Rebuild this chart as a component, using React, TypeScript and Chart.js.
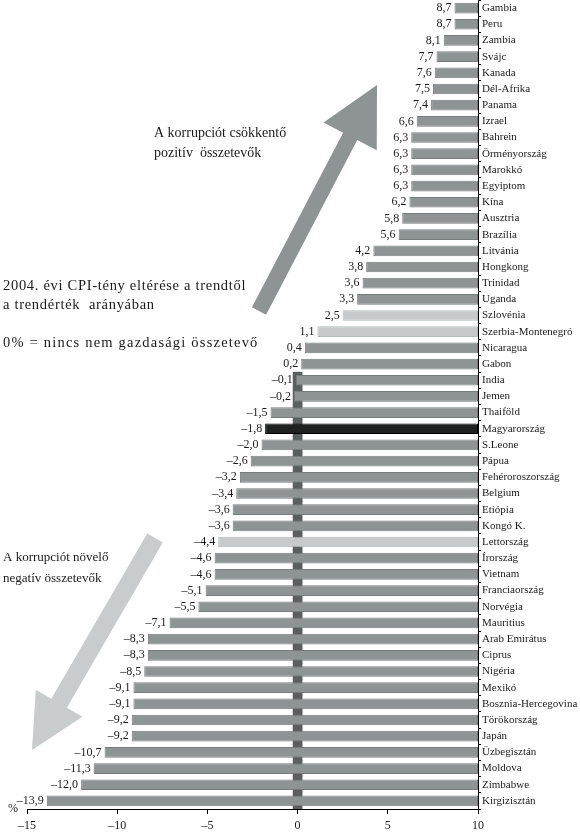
import { Chart, ChartConfiguration, Plugin } from "chart.js/auto";
import { useEffect, useRef } from "react";

const countries = [
  "Gambia", "Peru", "Zambia", "Svájc", "Kanada", "Dél-Afrika", "Panama", "Izrael",
  "Bahrein", "Örményország", "Marokkó", "Egyiptom", "Kína", "Ausztria", "Brazília",
  "Litvánia", "Hongkong", "Trinidad", "Uganda", "Szlovénia", "Szerbia-Montenegró",
  "Nicaragua", "Gabon", "India", "Jemen", "Thaiföld", "Magyarország", "S.Leone",
  "Pápua", "Fehéroroszország", "Belgium", "Etiópia", "Kongó K.", "Lettország",
  "Írország", "Vietnam", "Franciaország", "Norvégia", "Mauritius", "Arab Emirátus",
  "Ciprus", "Nigéria", "Mexikó", "Bosznia-Hercegovina", "Törökország", "Japán",
  "Üzbegisztán", "Moldova", "Zimbabwe", "Kirgizisztán",
];

const values = [
  8.7, 8.7, 8.1, 7.7, 7.6, 7.5, 7.4, 6.6, 6.3, 6.3, 6.3, 6.3, 6.2, 5.8, 5.6,
  4.2, 3.8, 3.6, 3.3, 2.5, 1.1, 0.4, 0.2, -0.1, -0.2, -1.5, -1.8, -2.0, -2.6,
  -3.2, -3.4, -3.6, -3.6, -4.4, -4.6, -4.6, -5.1, -5.5, -7.1, -8.3, -8.3, -8.5,
  -9.1, -9.1, -9.2, -9.2, -10.7, -11.3, -12.0, -13.9,
];

const xTicks = [-15, -10, -5, 0, 5, 10];

const lightCountries = ["Szlovénia", "Szerbia-Montenegró", "Lettország"];
const darkCountries = ["Magyarország"];

const SERIF = "'Liberation Serif', 'DejaVu Serif', serif";
const INK = "#1a1a1a";

function fmt(v: number) {
  const s = Math.abs(v).toFixed(1).replace(".", ",");
  return v < 0 ? "\u2013" + s : s;
}

function drawArrow(
  ctx: CanvasRenderingContext2D,
  tx: number, ty: number, px: number, py: number,
  sw: number, hw: number, hl: number, color: string
) {
  const len = Math.hypot(px - tx, py - ty);
  const ux = (px - tx) / len;
  const uy = (py - ty) / len;
  const nx = -uy;
  const ny = ux;
  const bx = px - ux * hl;
  const by = py - uy * hl;
  ctx.beginPath();
  ctx.moveTo(tx + nx * sw / 2, ty + ny * sw / 2);
  ctx.lineTo(bx + nx * sw / 2, by + ny * sw / 2);
  ctx.lineTo(bx + nx * hw / 2, by + ny * hw / 2);
  ctx.lineTo(px, py);
  ctx.lineTo(bx - nx * hw / 2, by - ny * hw / 2);
  ctx.lineTo(bx - nx * sw / 2, by - ny * sw / 2);
  ctx.lineTo(tx - nx * sw / 2, ty - ny * sw / 2);
  ctx.closePath();
  ctx.fillStyle = color;
  ctx.fill();
}

// value labels left of each bar + arrows and notes
const decorPlugin: Plugin<"bar"> = {
  id: "decor",
  afterDatasetsDraw(chart) {
    const ctx = chart.ctx as CanvasRenderingContext2D & { letterSpacing: string };
    const xs = chart.scales.x;
    const meta = chart.getDatasetMeta(0);
    ctx.save();
    ctx.font = "12px " + SERIF;
    ctx.fillStyle = INK;
    ctx.textAlign = "right";
    ctx.textBaseline = "middle";
    meta.data.forEach((el, i) => {
      const x = xs.getPixelForValue(values[i]);
      ctx.fillText(fmt(values[i]), x - 3, el.y);
    });

    drawArrow(ctx, 259, 311, 377, 85, 16, 60, 58, "#8e9394");
    drawArrow(ctx, 155, 538, 32, 750, 18, 54, 54, "#c8cccc");

    ctx.fillStyle = INK;
    ctx.textAlign = "left";
    ctx.textBaseline = "alphabetic";
    ctx.font = "14px " + SERIF;
    ctx.fillText("A korrupciót csökkentő", 154, 137);
    ctx.fillText("pozitív  összetevők", 154, 157);
    ctx.font = "14.5px " + SERIF;
    ctx.letterSpacing = "0.7px";
    ctx.fillText("2004. évi CPI-tény eltérése a trendtől", 3, 290);
    ctx.fillText("a trendérték  arányában", 3, 309);
    ctx.letterSpacing = "1.2px";
    ctx.fillText("0% = nincs nem gazdasági összetevő", 3, 347);
    ctx.letterSpacing = "0px";
    ctx.font = "13px " + SERIF;
    ctx.fillText("A korrupciót növelő", 3, 561);
    ctx.fillText("negatív összetevők", 3, 582);
    ctx.font = "12px " + SERIF;
    ctx.fillText("%", 8, 812);
    ctx.restore();
  },
};

export default function App() {
  const chartRef = useRef<HTMLCanvasElement | null>(null);
  const chartInstance = useRef<Chart<"bar"> | null>(null);

  useEffect(() => {
    document.body.style.margin = "0";
    if (!chartRef.current) return;
    const ctx = chartRef.current.getContext("2d");
    if (!ctx) return;
    if (chartInstance.current) chartInstance.current.destroy();

    const colors = countries.map((c) =>
      darkCountries.includes(c) ? "#1f2120" : lightCountries.includes(c) ? "#c6caca" : "#8e9394"
    );
    const borders = countries.map((c) =>
      darkCountries.includes(c) ? "#000000" : lightCountries.includes(c) ? "#b4b8b8" : "#767b7c"
    );
    // dark zero-line strip behind the negative rows
    const strip = values.map((v) => (v < 0 ? [-0.25, 0.25] : null));

    chartInstance.current = new Chart(ctx, {
      type: "bar",
      data: {
        labels: countries,
        datasets: [
          {
            data: values.map((v) => [v, 10]),
            backgroundColor: colors,
            borderColor: borders,
            borderWidth: 1,
            borderSkipped: false,
            barPercentage: 0.66,
            categoryPercentage: 1,
            grouped: false,
            order: 1,
          },
          {
            data: strip,
            backgroundColor: "#595e5f",
            borderWidth: 0,
            barPercentage: 1,
            categoryPercentage: 1,
            grouped: false,
            order: 2,
          },
        ],
      },
      options: {
        indexAxis: "y",
        animation: false,
        responsive: true,
        maintainAspectRatio: false,
        layout: { padding: { left: 27, top: 0, right: 0, bottom: 0 } },
        plugins: { legend: { display: false }, tooltip: { enabled: false } },
        scales: {
          x: {
            type: "linear",
            min: xTicks[0],
            max: xTicks[xTicks.length - 1],
            afterBuildTicks: (s) => {
              s.ticks = xTicks.map((v) => ({ value: v }));
            },
            ticks: {
              font: { family: SERIF, size: 12 },
              color: INK,
              padding: 5,
              callback: (v) => String(v).replace("-", "\u2013"),
            },
            grid: { drawOnChartArea: false, tickLength: 5, color: "#000" },
            border: { color: "#000", width: 1 },
            afterFit: (s) => {
              s.height = 23;
            },
          },
          y: {
            position: "right",
            ticks: {
              font: { family: SERIF, size: 11 },
              color: INK,
              padding: 1,
              autoSkip: false,
            },
            grid: { offset: true, drawOnChartArea: false, tickLength: 3, color: "#000" },
            border: { color: "#000", width: 1 },
            afterFit: (s) => {
              s.width = 102;
              s.paddingTop = 0;
              s.paddingBottom = 0;
            },
          },
        },
      },
      plugins: [decorPlugin],
    } as ChartConfiguration<"bar">);

    return () => {
      if (chartInstance.current) {
        chartInstance.current.destroy();
        chartInstance.current = null;
      }
    };
  }, []);

  return (
    <div style={{ width: "580px", height: "832px", position: "relative", background: "#fff" }}>
      <canvas ref={chartRef}></canvas>
    </div>
  );
}
